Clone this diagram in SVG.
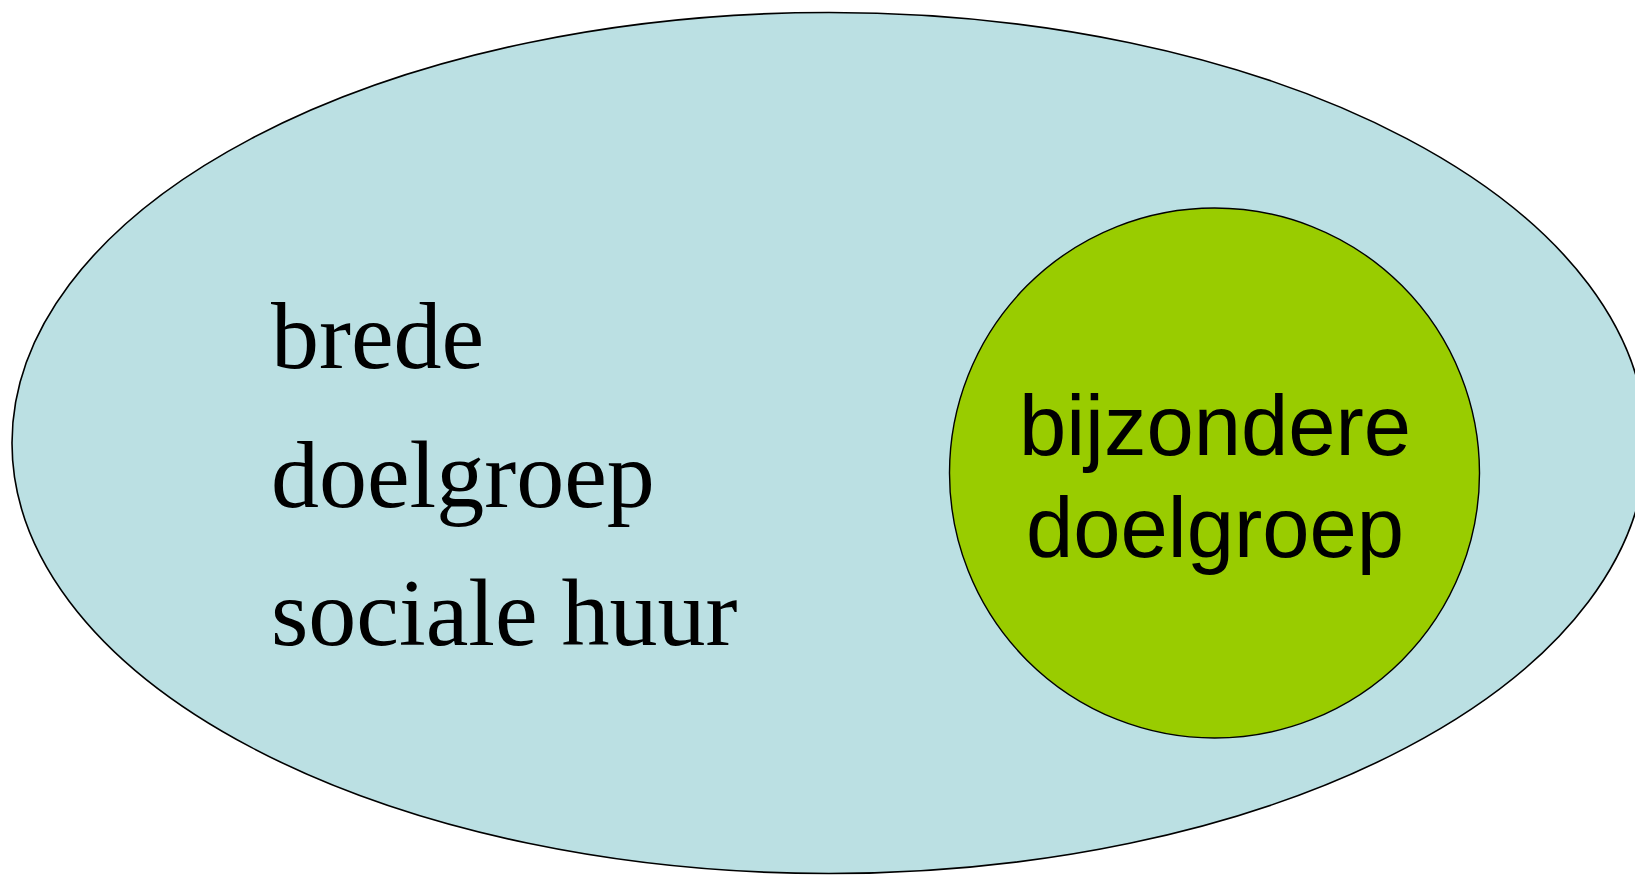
<svg xmlns="http://www.w3.org/2000/svg" width="1635" height="875" viewBox="0 0 1635 875">
<style>
.outer{fill:#BBE0E3;stroke:#000;stroke-width:1.6}
.inner{fill:#99CC00;stroke:#000;stroke-width:1.4}
.serif{font-family:"Liberation Serif","Times New Roman",serif;font-size:96px;fill:#000}
.sans{font-family:"Liberation Sans",Arial,sans-serif;font-size:85px;fill:#000;text-anchor:middle}
</style>
<g id="brede-doelgroep">
<ellipse class="outer" cx="829" cy="443" rx="817" ry="430.5"/>
<text class="serif" x="271" y="368">brede</text>
<text class="serif" x="271" y="507">doelgroep</text>
<text class="serif" x="271" y="645">sociale huur</text>
</g>
<g id="bijzondere-doelgroep">
<circle class="inner" cx="1214.5" cy="473" r="265"/>
<text class="sans" x="1215" y="455">bijzondere</text>
<text class="sans" x="1215" y="557">doelgroep</text>
</g>
<g id="connectors"/>
</svg>
